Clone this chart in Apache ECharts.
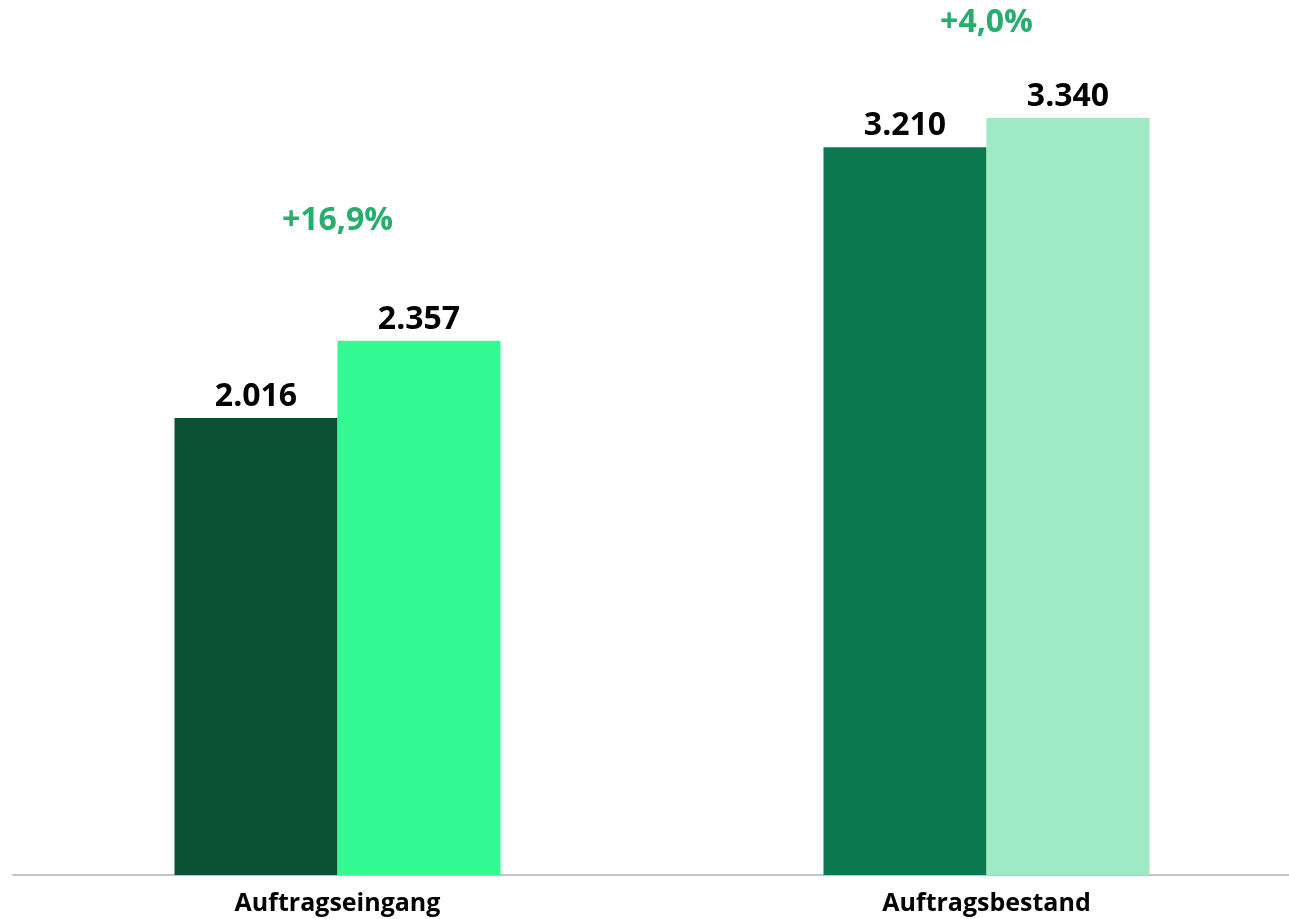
<!DOCTYPE html>
<html>
<head>
<meta charset="utf-8">
<script src="https://cdn.jsdelivr.net/npm/echarts@6/dist/echarts.min.js"></script>
<style>
  html, body { margin: 0; padding: 0; background: #fff; }
  #chart { width: 1289px; height: 919px; }
</style>
</head>
<body>
<div id="chart"></div>
<script>
'use strict';

// data
var categories = ['Auftragseingang', 'Auftragsbestand'];
var previousValues = [2016, 3210];
var currentValues = [2357, 3340];
var previousColors = ['#0a5234', '#0b784f'];
var currentColors = ['#33fa93', '#9deac4'];

var fontFamily = '"Open Sans", "Noto Sans", sans-serif';

// formatting like 2.357 / +16,9%
function fmtNumber(v) {
    return String(v).replace(/\B(?=(\d{3})+(?!\d))/g, '.');
}
function fmtChange(a, b) {
    var p = (b - a) / a * 100;
    return (p >= 0 ? '+' : '') + p.toFixed(1).replace('.', ',') + '%';
}

var changeOffsets = [-120, -95];

var chart = echarts.init(document.getElementById('chart'));

var valueLabel = {
    show: true,
    position: 'top',
    distance: 5,
    color: '#000',
    fontFamily: fontFamily,
    fontWeight: 'bold',
    fontSize: 32
};

function makeLabel(values) {
    return echarts.util.extend({
        formatter: function (p) { return fmtNumber(values[p.dataIndex]); }
    }, valueLabel);
}

var option = {
    animation: false,
    backgroundColor: '#fff',
    grid: { left: 13, width: 1298, top: 0, bottom: 44, outerBoundsMode: 'none', containLabel: false },
    xAxis: [{
        type: 'category',
        data: categories,
        axisLine: { show: true, lineStyle: { color: '#c4c4c4', width: 2 } },
        axisTick: { show: false },
        axisLabel: {
            color: '#000',
            fontFamily: fontFamily,
            fontWeight: 'bold',
            fontSize: 25,
            margin: 16
        }
    }, {
        type: 'category',
        data: categories,
        show: false
    }],
    yAxis: {
        type: 'value',
        min: 0,
        max: 3860,
        show: false,
        splitLine: { show: false }
    },
    series: [{
        name: 'Vorjahr',
        type: 'bar',
        barWidth: 163,
        barGap: '0%',
        data: previousValues.map(function (v, i) {
            return { value: v, itemStyle: { color: previousColors[i] } };
        }),
        label: makeLabel(previousValues)
    }, {
        name: 'Aktuell',
        type: 'bar',
        barWidth: 163,
        barGap: '0%',
        data: currentValues.map(function (v, i) {
            return { value: v, itemStyle: { color: currentColors[i] } };
        }),
        label: makeLabel(currentValues)
    }, {
        name: 'Veränderung',
        type: 'scatter',
        xAxisIndex: 1,
        symbolSize: 0,
        silent: true,
        itemStyle: { opacity: 1 },
        data: currentValues.map(function (v, i) {
            return {
                value: [categories[i], v],
                label: {
                    show: true,
                    position: 'inside',
                    offset: [0, changeOffsets[i]],
                    formatter: fmtChange(previousValues[i], v),
                    color: '#27ad6c',
                    fontFamily: fontFamily,
                    fontWeight: 'bold',
                    fontSize: 32
                }
            };
        })
    }]
};

chart.setOption(option);
</script>
</body>
</html>
